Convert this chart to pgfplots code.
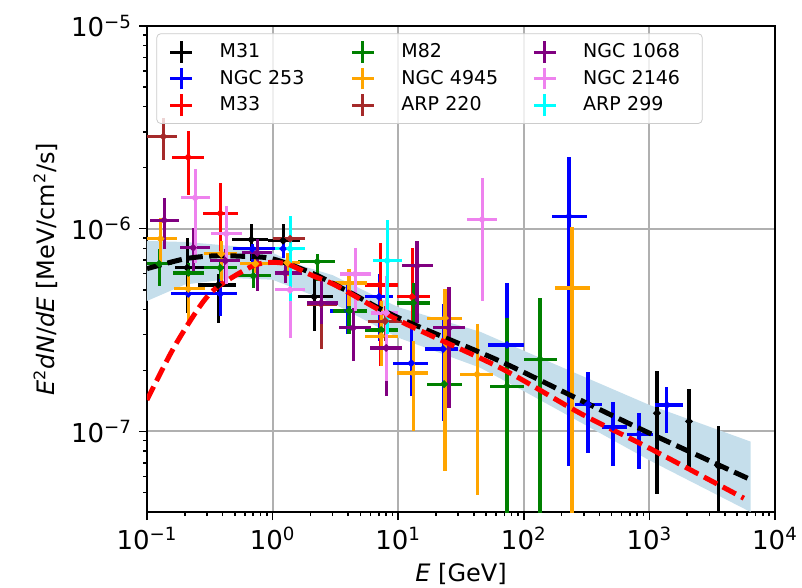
\documentclass[border=0pt]{standalone}
\usepackage{fontspec}
\setmainfont{DejaVu Sans}
\usepackage{pgfplots}
\usepackage{pgfplotstable}
\pgfplotsset{compat=1.18}
\definecolor{mplgreen}{RGB}{0,128,0}
\definecolor{mplorange}{RGB}{255,165,0}
\definecolor{mplbrown}{RGB}{165,42,42}
\definecolor{mplpurple}{RGB}{128,0,128}
\definecolor{mplviolet}{RGB}{238,130,238}
\definecolor{mplcyan}{RGB}{0,255,255}
\definecolor{bandblue}{RGB}{197,222,235}
\definecolor{gridgray}{RGB}{176,176,176}
\definecolor{legendgray}{RGB}{204,204,204}

\pgfplotstableread{
x y xl xh yl yh
0.209 6.41e-7 0.168 0.291 3.84e-7 9.02e-7
0.369 5.28e-7 0.256 0.513 3.43e-7 5.98e-7
0.676 8.83e-7 0.478 0.923 6.95e-7 1.05e-6
1.213 8.73e-7 0.923 1.66 7.78e-7 1.06e-6
2.143 4.61e-7 1.60 3.03 3.13e-7 5.72e-7
1148 1.23e-7 1148 1148 4.93e-8 1.98e-7
2065 1.12e-7 2065 2065 6.56e-8 1.61e-7
3573 6.71e-8 3573 3573 2e-8 1.06e-7
}\tabMA
\pgfplotstableread{
x y xl xh yl yh
0.213 4.77e-7 0.156 0.291 3.31e-7 5.22e-7
0.383 4.77e-7 0.291 0.522 3.71e-7 5.85e-7
0.689 7.96e-7 0.486 0.993 6.79e-7 8.43e-7
1.213 7.96e-7 0.993 1.60 7.18e-7 8.73e-7
3.99 3.93e-7 2.871 5.458 3.02e-7 5.53e-7
7.05 4.61e-7 5.458 9.10 2.79e-7 5.98e-7
12.68 2.17e-7 9.10 17.30 1.49e-7 3.31e-7
22.8 2.55e-7 16.37 30.0 1.12e-7 4.25e-7
73.5 2.67e-7 51.9 100.5 2e-8 5.40e-7
229 1.15e-6 167.5 318 6.71e-8 2.25e-6
324 1.36e-7 256 419 7.78e-8 1.96e-7
513 1.05e-7 419 662 6.71e-8 1.39e-7
826 9.66e-8 662 1067 6.49e-8 1.23e-7
1377 1.35e-7 1107 1849 9.77e-8 1.65e-7
}\tabNA
\pgfplotstableread{
x y xl xh yl yh
0.213 2.25e-6 0.159 0.286 1.47e-6 3.02e-6
0.383 1.19e-6 0.281 0.532 7.78e-7 1.69e-6
7.18 5.28e-7 5.458 9.98 2.10e-7 8.53e-7
12.91 4.61e-7 9.79 17.95 3.24e-7 8.05e-7
}\tabMB
\pgfplotstableread{
x y xl xh yl yh
0.125 6.71e-7 0.1005 0.159 5.22e-7 7.96e-7
0.213 6.05e-7 0.162 0.286 5.22e-7 6.79e-7
0.383 6.41e-7 0.286 0.522 5.65e-7 7.10e-7
0.702 5.85e-7 0.522 0.975 5.10e-7 6.71e-7
2.265 6.87e-7 1.60 3.148 5.53e-7 7.52e-7
4.064 3.93e-7 3.034 5.662 3.02e-7 5.10e-7
7.31 3.16e-7 5.458 9.98 2.49e-7 3.93e-7
13.15 4.30e-7 9.79 17.95 3.24e-7 5.40e-7
23.2 1.71e-7 16.98 32.2 6.71e-8 2.64e-7
73.5 1.67e-7 53.8 100.5 2e-8 3.62e-7
134.6 2.27e-7 100.5 183.6 2e-8 4.55e-7
}\tabMC
\pgfplotstableread{
x y xl xh yl yh
0.128 8.92e-7 0.1005 0.174 6.79e-7 1.13e-6
0.213 5.05e-7 0.165 0.291 3.31e-7 5.85e-7
0.390 7.52e-7 0.286 0.522 5.53e-7 8.73e-7
0.728 6.71e-7 0.552 0.975 6.05e-7 7.35e-7
1.306 6.79e-7 0.993 1.66 5.85e-7 7.60e-7
4.064 5.40e-7 3.034 5.662 4.16e-7 6.34e-7
7.31 2.95e-7 5.458 9.98 2.10e-7 4.40e-7
13.15 1.94e-7 9.79 17.30 1.0e-7 2.79e-7
23.6 3.62e-7 16.98 32.2 6.34e-8 5.05e-7
42.5 1.91e-7 31.0 56.9 4.88e-8 3.39e-7
242 5.10e-7 177 336.5 2e-8 1.02e-6
}\tabNB
\pgfplotstableread{
x y xl xh yl yh
0.135 2.85e-6 0.1005 0.174 2.17e-6 3.50e-6
1.380 8.92e-7 1.012 1.816 4.93e-7 1.10e-6
2.438 4.25e-7 1.884 3.266 2.55e-7 5.53e-7
7.87 3.50e-7 5.754 10.74 2.79e-7 4.16e-7
}\tabAA
\pgfplotstableread{
x y xl xh yl yh
0.137 1.10e-6 0.106 0.181 7.96e-7 1.41e-6
0.233 8.05e-7 0.184 0.319 6.20e-7 1.01e-6
0.420 6.95e-7 0.319 0.552 5.34e-7 7.96e-7
0.754 7.60e-7 0.573 0.993 4.93e-7 8.92e-7
1.259 6.05e-7 1.049 1.718 5.40e-7 6.79e-7
2.438 4.30e-7 1.884 3.327 3.39e-7 5.53e-7
4.375 3.24e-7 3.388 6.081 2.22e-7 4.06e-7
8.02 2.58e-7 5.97 10.74 1.49e-7 3.43e-7
14.13 6.56e-7 10.74 18.97 3.43e-7 8.73e-7
25.4 3.24e-7 18.97 34.0 1.30e-7 5.16e-7
}\tabNC
\pgfplotstableread{
x y xl xh yl yh
0.242 1.42e-6 0.1875 0.319 6.79e-7 1.98e-6
0.428 9.44e-7 0.325 0.573 5.34e-7 1.30e-6
1.380 4.99e-7 1.049 1.816 2.89e-7 6.56e-7
4.539 5.98e-7 3.451 6.081 3.93e-7 8.05e-7
8.02 3.84e-7 6.081 9.98 1.77e-7 5.85e-7
46.6 1.11e-6 35.3 61.2 4.40e-7 1.77e-6
}\tabND
\pgfplotstableread{
x y xl xh yl yh
1.380 7.96e-7 1.049 1.816 4.40e-7 1.16e-6
8.17 6.95e-7 6.31 10.74 3.02e-7 1.10e-6
}\tabAB

\pgfplotsset{
  gal/.style={only marks, mark=*, mark size=0.9pt, line width=1.6pt,
    legend image code/.code={\draw[line width=1.5pt] (0pt,-5.4pt)--(0pt,5.4pt) (-5.4pt,0pt)--(5.4pt,0pt);},
    error bars/.cd, x dir=both, x explicit, y dir=both, y explicit,
    error mark=none, error bar style={line width=1.6pt, solid}},
}

\begin{document}
\begin{tikzpicture}
\useasboundingbox (-73.5pt,-38pt) rectangle (327.5pt,256pt);
\begin{axis}[
  at={(0pt,0pt)}, anchor=south west,
  scale only axis, width=314pt, height=243pt,
  xmode=log, ymode=log,
  xmin=0.1, xmax=1e4, ymin=4e-8, ymax=1e-5,
  xtick={0.1,1,10,100,1000,10000},
  xticklabels={10\textsuperscript{−1},10\textsuperscript{0},10\textsuperscript{1},10\textsuperscript{2},10\textsuperscript{3},10\textsuperscript{4}},
  minor xtick={0.2,0.3,0.4,0.5,0.6,0.7,0.8,0.9,2,3,4,5,6,7,8,9,20,30,40,50,60,70,80,90,200,300,400,500,600,700,800,900,2000,3000,4000,5000,6000,7000,8000,9000},
  ytick={1e-7,1e-6,1e-5},
  yticklabels={10\textsuperscript{−7},10\textsuperscript{−6},10\textsuperscript{−5}},
  minor ytick={5e-8,6e-8,7e-8,8e-8,9e-8,2e-7,3e-7,4e-7,5e-7,6e-7,7e-7,8e-7,9e-7,2e-6,3e-6,4e-6,5e-6,6e-6,7e-6,8e-6,9e-6},
  tick align=outside, tick pos=left,
  major tick length=4pt, minor tick length=2pt,
  every tick/.style={black, line width=0.8pt},
  grid=major, major grid style={line width=1pt, color=gridgray},
  axis line style={line width=0.8pt},
  tick label style={font=\fontsize{13}{15}\selectfont},
  label style={font=\fontsize{12}{14}\selectfont},
  xlabel={\textit{E} [GeV]},
  ylabel={\textit{E}\textsuperscript{2}\textit{dN}/\textit{dE} [MeV/cm\textsuperscript{2}/s]},
  legend columns=3, transpose legend, legend cell align=left,
  legend style={at={(0.015,0.985)}, anchor=north west,
    font=\fontsize{9.5}{11}\selectfont,
    draw=legendgray, rounded corners=2pt, fill=white, fill opacity=0.8,
    text opacity=1, draw opacity=1, inner xsep=6pt, inner ysep=3pt,
    row sep=1pt, column sep=11.6pt, nodes={inner sep=1.5pt},
    /tikz/every even column/.append style={column sep=12pt, text width=52pt}},
]
% band
\addplot[fill=bandblue, draw=none, forget plot] coordinates {
(0.1,8.7e-7) (0.2,8.6e-7) (0.5,8.2e-7) (1,7.6e-7) (1.66,6.6e-7) (3,5.9e-7) (10,4.1e-7) (45,3.1e-7) (136,2.3e-7) (1000,1.35e-7) (6400,8.9e-8)
(6400,4.0e-8) (1000,7.2e-8) (100,1.58e-7) (45,2.06e-7) (10,2.9e-7) (3,4.3e-7) (1,5.6e-7) (0.5,5.7e-7) (0.2,5.3e-7) (0.1,4.4e-7)};

\addplot[black, gal] table[x=x, y=y, x error plus expr={\thisrow{xh}-\thisrow{x}}, x error minus expr={\thisrow{x}-\thisrow{xl}}, y error plus expr={\thisrow{yh}-\thisrow{y}}, y error minus expr={\thisrow{y}-\thisrow{yl}}] {\tabMA};
\addlegendentry{M31}
\addplot[blue, gal] table[x=x, y=y, x error plus expr={\thisrow{xh}-\thisrow{x}}, x error minus expr={\thisrow{x}-\thisrow{xl}}, y error plus expr={\thisrow{yh}-\thisrow{y}}, y error minus expr={\thisrow{y}-\thisrow{yl}}] {\tabNA};
\addlegendentry{NGC 253}
\addplot[red, gal] table[x=x, y=y, x error plus expr={\thisrow{xh}-\thisrow{x}}, x error minus expr={\thisrow{x}-\thisrow{xl}}, y error plus expr={\thisrow{yh}-\thisrow{y}}, y error minus expr={\thisrow{y}-\thisrow{yl}}] {\tabMB};
\addlegendentry{M33}
\addplot[mplgreen, gal] table[x=x, y=y, x error plus expr={\thisrow{xh}-\thisrow{x}}, x error minus expr={\thisrow{x}-\thisrow{xl}}, y error plus expr={\thisrow{yh}-\thisrow{y}}, y error minus expr={\thisrow{y}-\thisrow{yl}}] {\tabMC};
\addlegendentry{M82}
\addplot[mplorange, gal] table[x=x, y=y, x error plus expr={\thisrow{xh}-\thisrow{x}}, x error minus expr={\thisrow{x}-\thisrow{xl}}, y error plus expr={\thisrow{yh}-\thisrow{y}}, y error minus expr={\thisrow{y}-\thisrow{yl}}] {\tabNB};
\addlegendentry{NGC 4945}
\addplot[mplbrown, gal] table[x=x, y=y, x error plus expr={\thisrow{xh}-\thisrow{x}}, x error minus expr={\thisrow{x}-\thisrow{xl}}, y error plus expr={\thisrow{yh}-\thisrow{y}}, y error minus expr={\thisrow{y}-\thisrow{yl}}] {\tabAA};
\addlegendentry{ARP 220}
\addplot[mplpurple, gal] table[x=x, y=y, x error plus expr={\thisrow{xh}-\thisrow{x}}, x error minus expr={\thisrow{x}-\thisrow{xl}}, y error plus expr={\thisrow{yh}-\thisrow{y}}, y error minus expr={\thisrow{y}-\thisrow{yl}}] {\tabNC};
\addlegendentry{NGC 1068}
\addplot[mplviolet, gal] table[x=x, y=y, x error plus expr={\thisrow{xh}-\thisrow{x}}, x error minus expr={\thisrow{x}-\thisrow{xl}}, y error plus expr={\thisrow{yh}-\thisrow{y}}, y error minus expr={\thisrow{y}-\thisrow{yl}}] {\tabND};
\addlegendentry{NGC 2146}
\addplot[mplcyan, gal] table[x=x, y=y, x error plus expr={\thisrow{xh}-\thisrow{x}}, x error minus expr={\thisrow{x}-\thisrow{xl}}, y error plus expr={\thisrow{yh}-\thisrow{y}}, y error minus expr={\thisrow{y}-\thisrow{yl}}] {\tabAB};
\addlegendentry{ARP 299}

% model curves
\addplot[black, line width=2.5pt, dash pattern=on 7.4pt off 3.2pt, smooth, forget plot] coordinates {
(0.1,6.35e-7) (0.2,7.1e-7) (0.35,7.35e-7) (0.6,7.3e-7) (1,7.1e-7) (2.1,6.0e-7) (4,4.9e-7) (10,3.64e-7) (64.7,2.22e-7) (300,1.40e-7) (1000,9.8e-8) (6400,5.78e-8)};
\addplot[red, line width=2.5pt, dash pattern=on 7.4pt off 3.2pt, smooth, forget plot] coordinates {
(0.1,1.43e-7) (0.163,2.58e-7) (0.265,4.16e-7) (0.36,5.13e-7) (0.66,6.45e-7) (0.9,6.8e-7) (1.3,6.7e-7) (2.1,5.85e-7) (3.24,5.22e-7) (10.35,3.5e-7) (64.7,2.06e-7) (280,1.23e-7) (1000,8.26e-8) (5650,4.68e-8)};
\end{axis}
\end{tikzpicture}
\end{document}
